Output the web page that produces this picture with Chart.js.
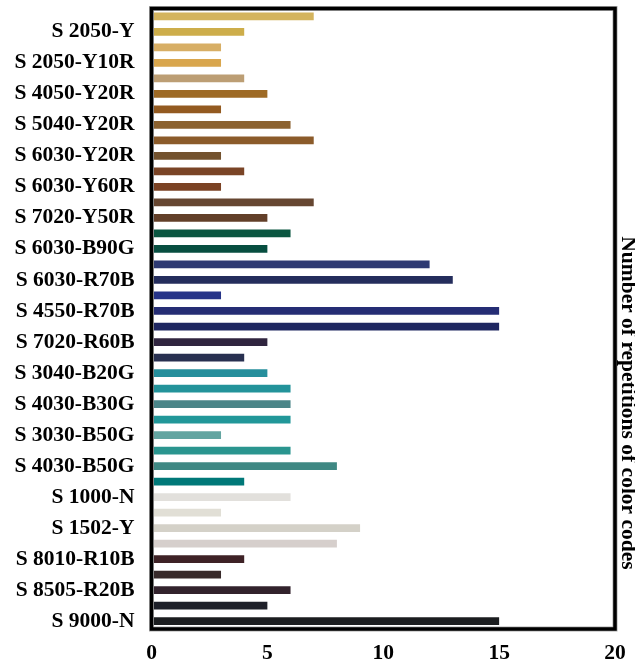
<!DOCTYPE html>
<html lang="en">
<head>
    <meta charset="UTF-8">
    <title>Color codes</title>
    <script src="https://cdn.jsdelivr.net/npm/chart.js"></script>
    <style>
        body { margin: 0; background: #fff; }
        .box { width: 635px; height: 663px; position: relative; }
    </style>
</head>
<body>
<div class="box">
    <canvas id="grafico_cores"></canvas>
</div>
<script>
    // only every other code is labelled in the picture
    const codigos = ['', 'S 2050-Y', '', 'S 2050-Y10R', '', 'S 4050-Y20R', '', 'S 5040-Y20R',
        '', 'S 6030-Y20R', '', 'S 6030-Y60R', '', 'S 7020-Y50R', '', 'S 6030-B90G',
        '', 'S 6030-R70B', '', 'S 4550-R70B', '', 'S 7020-R60B', '', 'S 3040-B20G',
        '', 'S 4030-B30G', '', 'S 3030-B50G', '', 'S 4030-B50G', '', 'S 1000-N',
        '', 'S 1502-Y', '', 'S 8010-R10B', '', 'S 8505-R20B', '', 'S 9000-N'];
    const repeticoes = [7, 4, 3, 3, 4, 5, 3, 6, 7, 3, 4, 3, 7, 5, 6, 5, 12, 13, 3, 15,
        15, 5, 4, 5, 6, 6, 6, 3, 6, 8, 4, 6, 3, 9, 8, 4, 3, 6, 5, 15];
    const cores = ['#d4b45e', '#cdad4a', '#d7ae65', '#d9a64d', '#bc9e74', '#9e6a25', '#935a20', '#8c6230',
        '#8b5b2a', '#73522e', '#7a4426', '#7b4224', '#664631', '#623f29', '#0b5641', '#074e40',
        '#2e3a72', '#242d5c', '#263488', '#252d74', '#1f2761', '#30253f', '#283050', '#268f9c',
        '#23939a', '#4a8588', '#219799', '#63a5a1', '#2a958f', '#3f8883', '#007878', '#e2e0dc',
        '#e1dfd6', '#d4d1c8', '#d6cfcc', '#3e2226', '#382a2a', '#32222c', '#1e2029', '#1b1d1f'];
    const ticks_x = [0, 5, 10, 15, 20];

    const fonte = { family: "'Liberation Serif', 'Times New Roman', serif", size: 21.5, weight: 'bold' };

    // frame around the plot + the rotated title on the right
    const moldura = {
        id: 'moldura',
        afterDraw(chart) {
            const ctx = chart.ctx;
            const a = chart.chartArea;
            ctx.save();
            ctx.strokeStyle = '#aaa';
            ctx.lineWidth = 5;
            ctx.strokeRect(a.left, a.top, a.right - a.left, a.bottom - a.top);
            ctx.strokeStyle = '#000';
            ctx.lineWidth = 3.5;
            ctx.strokeRect(a.left, a.top, a.right - a.left, a.bottom - a.top);
            ctx.translate(622, 403);
            ctx.rotate(Math.PI / 2);
            ctx.fillStyle = '#000';
            ctx.font = 'bold 21.5px "Liberation Serif", serif';
            ctx.textAlign = 'center';
            ctx.textBaseline = 'alphabetic';
            ctx.fillText('Number of repetitions of color codes', 0, 0);
            ctx.restore();
        }
    };

    new Chart(document.getElementById('grafico_cores'), {
        type: 'bar',
        data: {
            labels: codigos,
            datasets: [{
                data: repeticoes,
                backgroundColor: cores,
                categoryPercentage: 1,
                barPercentage: 0.5
            }]
        },
        options: {
            indexAxis: 'y',
            responsive: true,
            maintainAspectRatio: false,
            animation: false,
            layout: { padding: { top: 8.5, right: 20, bottom: 0, left: 0 } },
            plugins: { legend: { display: false }, tooltip: { enabled: false } },
            scales: {
                x: {
                    min: 0,
                    max: 20,
                    afterBuildTicks: (s) => { s.ticks = ticks_x.map(v => ({ value: v })); },
                    afterFit: (s) => { s.height = 34; s.paddingLeft = 0; s.paddingRight = 0; },
                    grid: { display: false, drawTicks: false },
                    border: { display: false },
                    ticks: { color: '#000', font: fonte, padding: 12, maxRotation: 0 }
                },
                y: {
                    afterFit: (s) => { s.width = 151.5; s.paddingTop = 0; s.paddingBottom = 0; },
                    grid: { display: false, drawTicks: false },
                    border: { display: false },
                    ticks: { color: '#000', font: fonte, padding: 17, autoSkip: false }
                }
            }
        },
        plugins: [moldura]
    });
</script>
</body>
</html>
